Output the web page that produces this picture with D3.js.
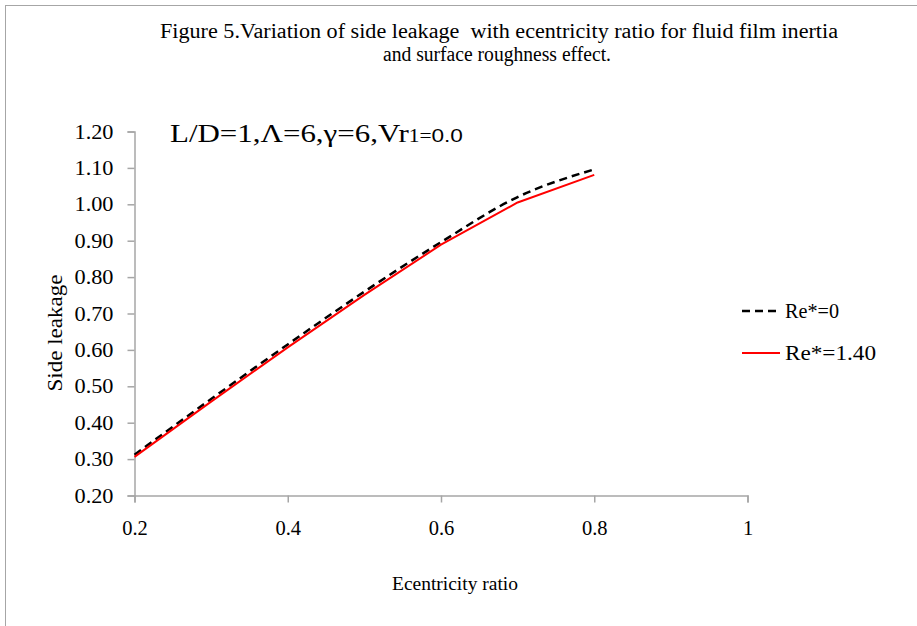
<!DOCTYPE html>
<html>
<head>
<meta charset="utf-8">
<script src="https://cdn.jsdelivr.net/npm/d3@7"></script>
<style>
  html, body { margin: 0; padding: 0; background: #fff; }
  svg { display: block; }
  text { font-family: "Liberation Serif", "Times New Roman", serif; fill: #000; }
</style>
</head>
<body>
<svg id="chart" width="917" height="626"></svg>
<script>
const eccentricity = [0.2, 0.3, 0.4, 0.5, 0.6, 0.7, 0.8];
const leakageRe0 = [0.312, 0.465, 0.615, 0.760, 0.896, 1.020, 1.096];
const leakageRe140 = [0.306, 0.458, 0.607, 0.751, 0.889, 1.005, 1.081];
const seriesNames = ["Re*=0", "Re*=1.40"];
const xTicks = [0.2, 0.4, 0.6, 0.8, 1];
const yTicks = [0.2, 0.3, 0.4, 0.5, 0.6, 0.7, 0.8, 0.9, 1.0, 1.1, 1.2];

const svg = d3.select("#chart");

function fit(sel, w) {
  sel.attr("textLength", w).attr("lengthAdjust", "spacingAndGlyphs");
  return sel;
}

// outer border (extends beyond viewport at right and bottom)
svg.append("rect").attr("x", 5.5).attr("y", 5.5).attr("width", 1000).attr("height", 1000)
  .attr("fill", "none").attr("stroke", "#a6a6a6").attr("stroke-width", 1);

const plot = { left: 134.5, right: 747.5, top: 131.5, bottom: 495.5 };
const x = d3.scaleLinear().domain([0.2, 1]).range([plot.left, plot.right]);
const y = d3.scaleLinear().domain([0.2, 1.2]).range([plot.bottom, plot.top]);

// title
fit(svg.append("text").attr("x", 499).attr("y", 38).attr("text-anchor", "middle")
  .style("font-size", "20px").style("white-space", "pre")
  .text("Figure 5.Variation of side leakage  with ecentricity ratio for fluid film inertia"), 678);
fit(svg.append("text").attr("x", 497).attr("y", 61).attr("text-anchor", "middle")
  .style("font-size", "20px").text("and surface roughness effect."), 228);

// axes
const axisColor = "#a6a6a6";
const xAxis = svg.append("g").attr("transform", `translate(0,${plot.bottom})`)
  .call(d3.axisBottom(x).tickValues(xTicks).tickSize(7).tickPadding(18).tickFormat(d3.format("")));
const yAxis = svg.append("g").attr("transform", `translate(${plot.left},0)`)
  .call(d3.axisLeft(y).tickValues(yTicks).tickSize(7).tickPadding(14).tickFormat(d3.format(".2f")));
[xAxis, yAxis].forEach(g => {
  g.select(".domain").attr("stroke", axisColor).attr("stroke-width", 1.5);
  g.selectAll(".tick line").attr("stroke", axisColor).attr("stroke-width", 1.5);
  g.selectAll(".tick text").attr("fill", "#000")
    .style("font-family", "'Liberation Serif', 'Times New Roman', serif").style("font-size", "20.5px");
});
xAxis.selectAll(".tick text").attr("dy", "0.71em");
yAxis.selectAll(".tick text").each(function() { fit(d3.select(this), 39); });

// axis labels
fit(svg.append("text").attr("x", 455).attr("y", 590).attr("text-anchor", "middle")
  .style("font-size", "19px").text("Ecentricity ratio"), 126);
fit(svg.append("text").attr("transform", "translate(62,333) rotate(-90)").attr("text-anchor", "middle")
  .style("font-size", "20px").text("Side leakage"), 117);

// annotation
const annG = svg.append("g");
const ann = annG.append("text").attr("x", 0).attr("y", 0);
ann.append("tspan").style("font-size", "26px").text("L/D=1,Λ=6,γ=6,Vr");
ann.append("tspan").style("font-size", "18px").text("1=");
ann.append("tspan").style("font-size", "19px").style("font-family", "'Liberation Sans', Arial, sans-serif").text("0.0");
const annW = ann.node().getBBox().width;
annG.attr("transform", `translate(170,142) scale(${293 / annW},1)`);

// lines
const pts0 = eccentricity.map((e, i) => [e, leakageRe0[i]]);
const pts1 = eccentricity.map((e, i) => [e, leakageRe140[i]]);
const lineSmooth = d3.line().x(d => x(d[0])).y(d => y(d[1])).curve(d3.curveMonotoneX);
const lineLin = d3.line().x(d => x(d[0])).y(d => y(d[1]));

svg.append("path").attr("d", lineSmooth(pts0)).attr("fill", "none")
  .attr("stroke", "#000").attr("stroke-width", 2.5).attr("stroke-dasharray", "8,5");
svg.append("path").attr("d", lineLin(pts1)).attr("fill", "none")
  .attr("stroke", "#ff0000").attr("stroke-width", 2).attr("stroke-linejoin", "round");

// legend
const legend = svg.append("g");
const legendItems = [
  { name: seriesNames[0], y: 311, stroke: "#000", dash: "8,5", w: 2.5, tw: 54 },
  { name: seriesNames[1], y: 353, stroke: "#ff0000", dash: null, w: 2, tw: 91 }
];
legendItems.forEach(it => {
  legend.append("line").attr("x1", 742).attr("x2", 780).attr("y1", it.y).attr("y2", it.y)
    .attr("stroke", it.stroke).attr("stroke-width", it.w).attr("stroke-dasharray", it.dash);
  fit(legend.append("text").attr("x", 785).attr("y", it.y + 7).style("font-size", "21px").text(it.name), it.tw);
});
</script>
</body>
</html>
